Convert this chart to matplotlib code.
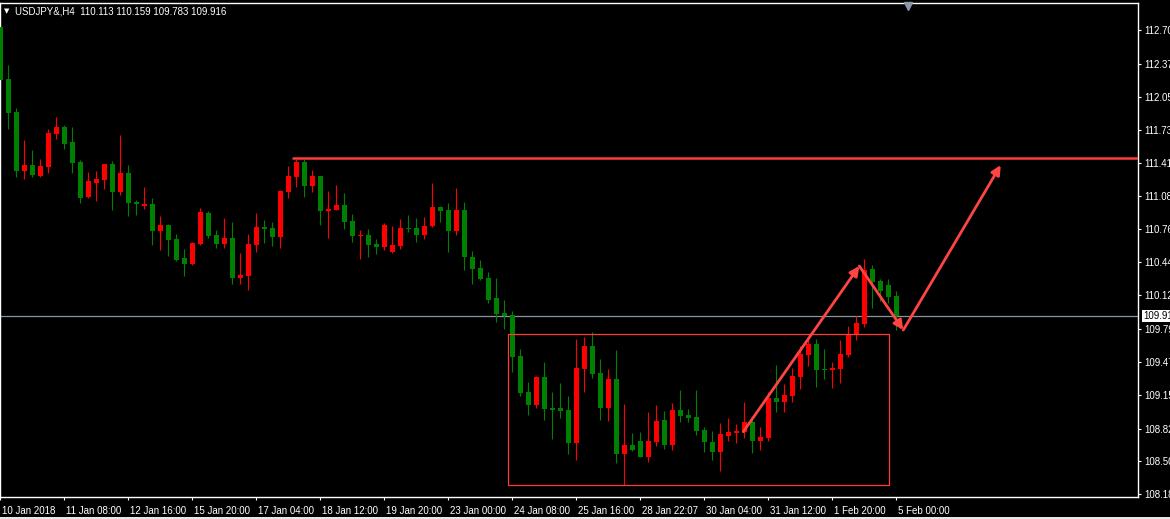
import numpy as np
import matplotlib
matplotlib.use('Agg')
import matplotlib.pyplot as plt
from matplotlib.patches import Rectangle
from matplotlib.transforms import ScaledTranslation

# USDJPY H4 bars (open, high, low, close)
opens = [112.726, 112.220, 111.902, 111.330, 111.385, 111.281, 111.366, 111.690, 111.755, 111.609,
         111.415, 111.074, 111.210, 111.239, 111.395, 111.122, 111.308, 111.025, 110.986, 111.006,
         110.743, 110.801, 110.665, 110.480, 110.421, 110.616, 110.918, 110.704, 110.616, 110.675,
         110.285, 110.305, 110.606, 110.782, 110.772, 110.684, 111.122, 111.269, 111.415, 111.184,
         111.278, 110.938, 110.947, 110.996, 110.840, 110.694, 110.704, 110.616, 110.587, 110.538,
         110.597, 110.772, 110.772, 110.704, 110.791, 110.976, 110.947, 110.743, 110.947, 110.490,
         110.383, 110.285, 110.090, 109.944, 109.925, 109.526, 109.175, 109.049, 109.321, 109.019,
         109.019, 109.000, 108.679, 109.399, 109.623, 109.360, 109.019, 109.302, 108.571, 108.659,
         108.698, 108.542, 108.688, 108.903, 108.659, 109.000, 108.951, 108.932, 108.805, 108.688,
         108.591, 108.747, 108.776, 108.786, 108.883, 108.698, 108.727, 109.117, 109.078, 109.136,
         109.321, 109.535, 109.643, 109.399, 109.389, 109.399, 109.535, 109.730, 109.837, 110.373,
         110.256, 110.217, 110.113]
highs = [112.735, 112.359, 111.940, 111.629, 111.531, 111.441, 111.733, 111.853, 111.772, 111.755,
         111.434, 111.317, 111.327, 111.400, 111.424, 111.678, 111.385, 111.045, 111.171, 111.064,
         110.889, 110.811, 110.714, 110.568, 110.636, 110.967, 110.938, 110.753, 110.869, 110.830,
         110.529, 110.714, 110.918, 110.850, 110.830, 111.142, 111.376, 111.444, 111.441, 111.337,
         111.283, 111.132, 111.191, 111.113, 110.908, 110.753, 110.762, 110.665, 110.821, 110.791,
         110.860, 110.899, 110.869, 110.879, 111.210, 110.986, 111.015, 111.161, 111.025, 110.548,
         110.460, 110.344, 110.285, 110.071, 109.964, 109.594, 109.273, 109.331, 109.467, 109.175,
         109.263, 109.136, 109.691, 109.711, 109.759, 109.496, 109.399, 109.584, 109.058, 108.776,
         108.786, 108.980, 109.049, 108.990, 109.068, 109.195, 109.010, 109.195, 108.834, 108.795,
         108.873, 108.922, 108.864, 109.078, 108.903, 108.834, 109.175, 109.438, 109.253, 109.409,
         109.623, 109.691, 109.691, 109.594, 109.467, 109.681, 109.818, 109.915, 110.470, 110.412,
         110.275, 110.275, 110.159]
lows = [112.138, 111.739, 111.271, 111.249, 111.271, 111.271, 111.308, 111.642, 111.541, 111.308,
        111.018, 111.069, 111.035, 111.152, 110.947, 111.093, 110.889, 110.899, 110.957, 110.606,
        110.558, 110.499, 110.451, 110.305, 110.412, 110.606, 110.675, 110.577, 110.577, 110.227,
        110.227, 110.168, 110.538, 110.626, 110.597, 110.577, 111.064, 111.171, 111.074, 111.122,
        110.801, 110.675, 110.947, 110.762, 110.636, 110.470, 110.490, 110.519, 110.558, 110.529,
        110.568, 110.733, 110.636, 110.665, 110.782, 110.830, 110.538, 110.704, 110.363, 110.227,
        110.266, 110.042, 109.857, 109.789, 109.370, 109.136, 108.951, 109.019, 108.903, 108.718,
        108.922, 108.571, 108.513, 109.175, 109.311, 108.903, 108.893, 108.484, 108.270, 108.601,
        108.542, 108.494, 108.649, 108.620, 108.610, 108.883, 108.883, 108.756, 108.591, 108.513,
        108.406, 108.698, 108.679, 108.727, 108.581, 108.610, 108.698, 108.980, 108.980, 109.078,
        109.204, 109.428, 109.224, 109.302, 109.214, 109.263, 109.516, 109.681, 109.808, 109.993,
        110.061, 110.042, 109.783]
closes = [112.213, 111.895, 111.330, 111.385, 111.288, 111.376, 111.697, 111.755, 111.593, 111.408,
          111.067, 111.230, 111.249, 111.395, 111.122, 111.308, 111.015, 111.006, 111.006, 110.743,
          110.801, 110.655, 110.460, 110.421, 110.626, 110.928, 110.694, 110.616, 110.675, 110.285,
          110.314, 110.616, 110.782, 110.762, 110.684, 111.132, 111.278, 111.415, 111.184, 111.278,
          110.938, 110.957, 110.996, 110.830, 110.694, 110.704, 110.606, 110.587, 110.801, 110.606,
          110.772, 110.762, 110.704, 110.791, 110.976, 110.938, 110.743, 110.947, 110.490, 110.373,
          110.275, 110.071, 109.935, 109.915, 109.516, 109.165, 109.049, 109.321, 109.010, 109.000,
          108.990, 108.679, 109.409, 109.623, 109.350, 109.019, 109.302, 108.571, 108.659, 108.610,
          108.542, 108.698, 108.893, 108.659, 109.000, 108.941, 108.922, 108.795, 108.688, 108.591,
          108.766, 108.786, 108.795, 108.883, 108.698, 108.737, 109.117, 109.078, 109.146, 109.331,
          109.545, 109.643, 109.389, 109.389, 109.409, 109.545, 109.730, 109.847, 110.363, 110.246,
          110.158, 110.100, 109.916]

date_labels = ["10 Jan 2018", "11 Jan 08:00", "12 Jan 16:00", "15 Jan 20:00", "17 Jan 04:00",
               "18 Jan 12:00", "19 Jan 20:00", "23 Jan 00:00", "24 Jan 08:00", "25 Jan 16:00",
               "28 Jan 22:07", "30 Jan 04:00", "31 Jan 12:00", "1 Feb 20:00", "5 Feb 00:00"]
price_ticks = [112.70, 112.37, 112.05, 111.73, 111.41, 111.08, 110.76, 110.44, 110.12,
               109.79, 109.47, 109.15, 108.82, 108.50, 108.18]

# drawn objects (bar index, price)
resistance = (36.46, 111.454)
box = [(63.46, 108.267), (111.125, 109.737)]
arrows = [((92.875, 108.789), (107.375, 110.402)),
          ((107.375, 110.402), (112.875, 109.779)),
          ((112.875, 109.779), (125.05, 111.385))]

plt.rcParams['font.family'] = ['Liberation Sans', 'DejaVu Sans']

fig = plt.figure(figsize=(11.7, 5.19), dpi=100, facecolor='black')
ax = fig.add_axes([0, 22.5 / 519, 1138 / 1170, 493.5 / 519], facecolor='black')

o = np.array(opens); h = np.array(highs); l = np.array(lows); c = np.array(closes)
x = np.arange(len(o))
col = np.where(c >= o, '#ff0000', '#008000')

ax.vlines(x, l, h, colors=col, lw=0.8, zorder=2)
body_lo = np.minimum(o, c)
body_h = np.maximum(np.abs(c - o), 0.012)
ax.bar(x, body_h, 0.625, bottom=body_lo, color=col, lw=0, zorder=3)

ax.set_xlim(-0.0375, 142.21)
ax.set_ylim(108.158, 112.963)

# current price line
ax.axhline(closes[-1], color='#8794a3', lw=0.9, zorder=1)

# analysis drawings
red = '#ff3b3b'
ax.hlines(resistance[1], resistance[0], 142.21, color=red, lw=1.8, zorder=4)
ax.add_patch(Rectangle(box[0], box[1][0] - box[0][0], box[1][1] - box[0][1],
                       fill=False, ec=red, lw=0.9, zorder=4))
for a, b in arrows:
    ax.annotate('', xy=b, xytext=a,
                arrowprops=dict(arrowstyle='-|>', color='#ff4444', lw=2,
                                mutation_scale=14, shrinkA=0, shrinkB=0), zorder=5)

# axes styling
for s in ax.spines.values():
    s.set_color('white')
    s.set_linewidth(1)
ax.yaxis.tick_right()
ax.set_yticks(price_ticks)
ax.set_yticklabels(['%.2f' % v for v in price_ticks])
ax.set_xticks(np.arange(0, len(o), 8))
ax.set_xticklabels(date_labels, ha='left')
ax.tick_params(colors='white', labelsize=7, length=2.5, width=0.8, pad=2)
ax.tick_params(axis='x', pad=4)
off = ScaledTranslation(2 / 100, 0, fig.dpi_scale_trans)
for lab in ax.get_xticklabels():
    lab.set_transform(lab.get_transform() + off)

# price tag
ax.annotate('%.2f' % (int(closes[-1] * 100) / 100), xy=(1, closes[-1]),
            xycoords=('axes fraction', 'data'), xytext=(4, 0), textcoords='offset points',
            va='center', ha='left', fontsize=7, color='black',
            bbox=dict(boxstyle='square,pad=0.12', fc='white', ec='none'), annotation_clip=False)

# header
fig.text(4 / 1170, 1 - 11.5 / 519, '\u25bc', color='white', fontsize=5, va='center',
         family=['DejaVu Sans'])
fig.text(15 / 1170, 1 - 11.5 / 519,
         'USDJPY&,H4  %.3f %.3f %.3f %.3f' % (opens[-1], highs[-1], lows[-1], closes[-1]),
         color='white', fontsize=7, va='center')

# chart shift marker
fig.add_artist(plt.Line2D([908 / 1170], [1 - 5.5 / 519], marker='v', ms=6,
                          color='#8a9aab', transform=fig.transFigure))
fig.add_artist(Rectangle((0, 0), 1, 2.5 / 519, transform=fig.transFigure,
                         color='#e6e6e6', lw=0))

fig.savefig('out.png', dpi=100, facecolor='black')
